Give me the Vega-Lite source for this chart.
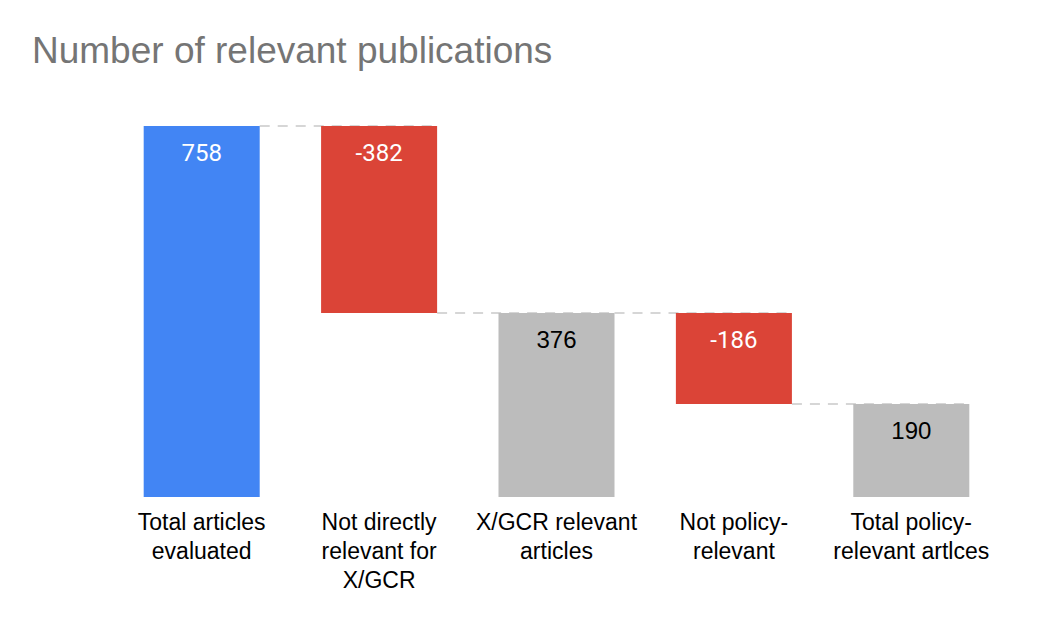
{
  "$schema": "https://vega.github.io/schema/vega-lite/v6.json",
  "width": 887,
  "height": 371,
  "autosize": "none",
  "padding": {"left": 113, "top": 126, "right": 62, "bottom": 129},
  "background": "white",
  "title": {
    "text": "Number of relevant publications",
    "anchor": "start",
    "frame": "group",
    "dx": -81,
    "offset": 25,
    "baseline": "alphabetic",
    "font": "Liberation Sans",
    "fontSize": 37,
    "fontWeight": "normal",
    "color": "#757575"
  },
  "config": {"view": {"stroke": null}},
  "datasets": {
    "bars": [
      {"cat": "Total articles|evaluated", "start": 0, "end": 758, "label": "758", "kind": "total"},
      {"cat": "Not directly|relevant for|X/GCR", "start": 758, "end": 376, "label": "-382", "kind": "decrease"},
      {"cat": "X/GCR relevant|articles", "start": 0, "end": 376, "label": "376", "kind": "subtotal"},
      {"cat": "Not policy-|relevant", "start": 376, "end": 190, "label": "-186", "kind": "decrease"},
      {"cat": "Total policy-|relevant artlces", "start": 0, "end": 190, "label": "190", "kind": "subtotal"}
    ],
    "conn": [
      {"from": "Total articles|evaluated", "to": "Not directly|relevant for|X/GCR", "level": 758},
      {"from": "Not directly|relevant for|X/GCR", "to": "X/GCR relevant|articles", "level": 376},
      {"from": "X/GCR relevant|articles", "to": "Not policy-|relevant", "level": 376},
      {"from": "Not policy-|relevant", "to": "Total policy-|relevant artlces", "level": 190}
    ]
  },
  "resolve": {"scale": {"x": "shared", "y": "shared"}},
  "layer": [
    {
      "data": {"name": "conn"},
      "mark": {"type": "rule", "strokeDash": [10, 8], "strokeWidth": 2, "color": "#D6D6D6"},
      "encoding": {
        "x": {
          "field": "from", "type": "nominal", "bandPosition": 1, "sort": null,
          "scale": {
            "domain": ["Total articles|evaluated", "Not directly|relevant for|X/GCR", "X/GCR relevant|articles", "Not policy-|relevant", "Total policy-|relevant artlces"],
            "paddingInner": 0.346, "paddingOuter": 0.173
          },
          "axis": {
            "title": null,
            "labelAngle": 0,
            "domain": false,
            "ticks": false,
            "labelPadding": 14,
            "labelFont": "Liberation Sans",
            "labelFontSize": 23,
            "labelColor": "#000000",
            "labelLineHeight": 29,
            "labelBaseline": "top",
            "labelLimit": 0,
            "labelExpr": "split(datum.value, '|')"
          }
        },
        "x2": {"field": "to", "bandPosition": 1},
        "y": {"field": "level", "type": "quantitative", "scale": {"domain": [0, 758], "nice": false, "zero": true}, "axis": null}
      }
    },
    {
      "data": {"name": "bars"},
      "mark": {"type": "bar"},
      "encoding": {
        "x": {"field": "cat", "type": "nominal", "sort": null},
        "y": {"field": "start", "type": "quantitative"},
        "y2": {"field": "end"},
        "color": {
          "field": "kind", "type": "nominal", "legend": null,
          "scale": {"domain": ["total", "decrease", "subtotal"], "range": ["#4285F4", "#DB4437", "#BCBCBC"]}
        }
      }
    },
    {
      "data": {"name": "bars"},
      "transform": [
        {"filter": "datum.kind != 'subtotal'"},
        {"calculate": "max(datum.start, datum.end)", "as": "top"}
      ],
      "mark": {"type": "text", "font": "Roboto", "fontSize": 24, "color": "#FFFFFF", "baseline": "middle", "dy": 28},
      "encoding": {
        "x": {"field": "cat", "type": "nominal", "sort": null},
        "y": {"field": "top", "type": "quantitative"},
        "text": {"field": "label"}
      }
    },
    {
      "data": {"name": "bars"},
      "transform": [
        {"filter": "datum.kind == 'subtotal'"},
        {"calculate": "max(datum.start, datum.end)", "as": "top"}
      ],
      "mark": {"type": "text", "font": "Liberation Sans", "fontSize": 24, "color": "#000000", "baseline": "middle", "dy": 28},
      "encoding": {
        "x": {"field": "cat", "type": "nominal", "sort": null},
        "y": {"field": "top", "type": "quantitative"},
        "text": {"field": "label"}
      }
    }
  ]
}
